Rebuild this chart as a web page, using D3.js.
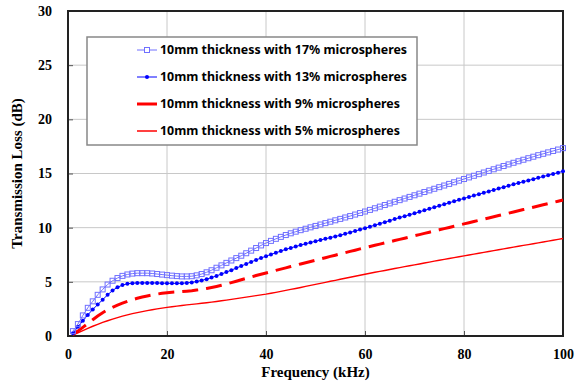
<!DOCTYPE html>
<html><head><meta charset="utf-8">
<script src="https://cdn.jsdelivr.net/npm/d3@7"></script>
<style>body{margin:0;background:#fff}svg{display:block}</style>
</head><body>
<svg id="c" width="588" height="382"></svg>
<script>
const freq = [1,2,3,4,5,6,7,8,9,10,11,12,13,14,15,16,17,18,19,20,21,22,23,24,25,26,27,28,29,30,31,32,33,34,35,36,37,38,39,40,41,42,43,44,45,46,47,48,49,50,51,52,53,54,55,56,57,58,59,60,61,62,63,64,65,66,67,68,69,70,71,72,73,74,75,76,77,78,79,80,81,82,83,84,85,86,87,88,89,90,91,92,93,94,95,96,97,98,99,100];
const tl17 = [0.45,1.1,1.9,2.6,3.2,3.8,4.3,4.75,5.1,5.35,5.55,5.68,5.76,5.8,5.8,5.8,5.77,5.72,5.67,5.62,5.57,5.53,5.5,5.5,5.52,5.6,5.72,5.88,6.07,6.3,6.52,6.75,6.97,7.19,7.41,7.64,7.88,8.12,8.36,8.58,8.78,8.97,9.15,9.32,9.48,9.63,9.77,9.9,10.03,10.16,10.29,10.42,10.55,10.68,10.81,10.94,11.07,11.21,11.35,11.49,11.64,11.79,11.94,12.09,12.24,12.39,12.54,12.69,12.84,12.99,13.14,13.29,13.44,13.59,13.74,13.89,14.04,14.19,14.34,14.49,14.64,14.79,14.94,15.09,15.24,15.39,15.54,15.69,15.84,15.99,16.13,16.27,16.41,16.55,16.69,16.82,16.95,17.08,17.21,17.34];
const tl13 = [0.25,0.85,1.4,1.95,2.45,2.9,3.35,3.8,4.2,4.5,4.7,4.82,4.88,4.9,4.9,4.9,4.9,4.89,4.88,4.87,4.86,4.86,4.87,4.9,4.95,5.03,5.13,5.25,5.39,5.55,5.72,5.9,6.08,6.27,6.46,6.65,6.84,7.02,7.2,7.37,7.53,7.68,7.84,8.0,8.13,8.26,8.39,8.51,8.63,8.75,8.86,8.97,9.08,9.19,9.3,9.43,9.56,9.69,9.82,9.95,10.09,10.23,10.37,10.51,10.65,10.79,10.93,11.06,11.19,11.32,11.46,11.6,11.74,11.88,12.02,12.16,12.3,12.43,12.57,12.7,12.83,12.96,13.09,13.22,13.35,13.48,13.61,13.74,13.87,14.0,14.12,14.24,14.36,14.48,14.6,14.72,14.84,14.96,15.08,15.2];
const tl9 = [0.15,0.45,0.8,1.15,1.5,1.85,2.15,2.42,2.65,2.85,3.03,3.2,3.35,3.48,3.6,3.7,3.79,3.87,3.94,4.0,4.04,4.07,4.1,4.14,4.18,4.24,4.3,4.38,4.47,4.57,4.68,4.8,4.93,5.06,5.19,5.32,5.45,5.58,5.7,5.82,5.94,6.06,6.17,6.29,6.41,6.53,6.65,6.76,6.88,7.0,7.12,7.23,7.35,7.46,7.58,7.69,7.81,7.92,8.04,8.15,8.26,8.37,8.48,8.59,8.7,8.81,8.92,9.03,9.14,9.25,9.36,9.47,9.58,9.69,9.8,9.91,10.02,10.13,10.24,10.35,10.46,10.57,10.68,10.79,10.9,11.01,11.12,11.23,11.34,11.45,11.56,11.67,11.78,11.89,12.0,12.11,12.22,12.33,12.44,12.55];
const tl5 = [0.1,0.3,0.5,0.7,0.9,1.08,1.25,1.41,1.56,1.7,1.83,1.95,2.06,2.16,2.25,2.34,2.42,2.5,2.57,2.64,2.7,2.76,2.82,2.87,2.92,2.97,3.02,3.07,3.13,3.19,3.25,3.31,3.38,3.45,3.52,3.59,3.66,3.73,3.8,3.86,3.95,4.03,4.12,4.21,4.3,4.39,4.48,4.58,4.67,4.76,4.86,4.95,5.05,5.14,5.24,5.33,5.42,5.52,5.61,5.7,5.79,5.88,5.96,6.05,6.14,6.23,6.31,6.4,6.48,6.57,6.65,6.74,6.82,6.91,6.99,7.07,7.15,7.24,7.32,7.4,7.48,7.56,7.64,7.72,7.8,7.88,7.96,8.04,8.12,8.2,8.28,8.36,8.44,8.52,8.6,8.68,8.76,8.84,8.92,9.0];
const seriesNames = ["10mm thickness with 17% microspheres","10mm thickness with 13% microspheres","10mm thickness with 9% microspheres","10mm thickness with 5% microspheres"];
const xTicks = [0,20,40,60,80,100];
const yTicks = [0,5,10,15,20,25,30];
const xTitle = "Frequency (kHz)";
const yTitle = "Transmission Loss (dB)";

const svg = d3.select("#c");
const L=68,R=563,T=11,B=336;
const x = d3.scaleLinear().domain([0,100]).range([L,R]);
const y = d3.scaleLinear().domain([0,30]).range([B,T]);
const serif = "'Liberation Serif','Times New Roman',serif";

// grid
svg.append("g").selectAll("line").data(xTicks.slice(1,-1)).join("line")
  .attr("x1",d=>x(d)).attr("x2",d=>x(d)).attr("y1",T).attr("y2",B)
  .attr("stroke","#c8c8c8").attr("stroke-width",1);
svg.append("g").selectAll("line").data(yTicks.slice(1,-1)).join("line")
  .attr("x1",L).attr("x2",R).attr("y1",d=>y(d)).attr("y2",d=>y(d))
  .attr("stroke","#c8c8c8").attr("stroke-width",1);

// axes
const xa = svg.append("g").attr("transform",`translate(0,${B})`)
  .call(d3.axisBottom(x).tickValues(xTicks).tickSizeInner(-5).tickSizeOuter(0).tickPadding(13));
const ya = svg.append("g").attr("transform",`translate(${L},0)`)
  .call(d3.axisLeft(y).tickValues(yTicks).tickSizeInner(-5).tickSizeOuter(0).tickPadding(16));
[xa,ya].forEach(a=>{
  a.select(".domain").remove();
  a.selectAll("line").attr("stroke","#555");
  a.selectAll("text").attr("font-family",serif).attr("font-weight","bold").attr("font-size",14).attr("fill","#000");
});

// frame
svg.append("rect").attr("x",L).attr("y",T).attr("width",R-L).attr("height",B-T)
  .attr("fill","none").attr("stroke","#222").attr("stroke-width",2);

// titles
svg.append("text").attr("x",(L+R)/2).attr("y",377).attr("text-anchor","middle")
  .attr("font-family",serif).attr("font-weight","bold").attr("font-size",15).text(xTitle);
svg.append("text").attr("transform",`translate(22,${(T+B)/2}) rotate(-90)`).attr("text-anchor","middle")
  .attr("font-family",serif).attr("font-weight","bold").attr("font-size",15).text(yTitle);

const line = d3.line().x((d,i)=>x(freq[i])).y(d=>y(d));
const g = svg.append("g");
// 5%
g.append("path").datum(tl5).attr("d",line).attr("fill","none").attr("stroke","#ff0000").attr("stroke-width",1.4);
// 9%
g.append("path").datum(tl9).attr("d",line).attr("fill","none").attr("stroke","#ff0000").attr("stroke-width",3).attr("stroke-dasharray","16,8");
// 13%
g.append("path").datum(tl13).attr("d",line).attr("fill","none").attr("stroke","#0000ff").attr("stroke-width",1);
g.append("g").selectAll("circle").data(tl13).join("circle")
  .attr("cx",(d,i)=>x(freq[i])).attr("cy",d=>y(d)).attr("r",2).attr("fill","#0000ff");
// 17%
g.append("path").datum(tl17).attr("d",line).attr("fill","none").attr("stroke","#7070ff").attr("stroke-width",1);
g.append("g").selectAll("rect").data(tl17).join("rect")
  .attr("x",(d,i)=>x(freq[i])-2.5).attr("y",d=>y(d)-2.5).attr("width",5).attr("height",5)
  .attr("fill","none").attr("stroke","#7070ff").attr("stroke-width",1);

// legend
const lg = svg.append("g");
lg.append("rect").attr("x",87).attr("y",37).attr("width",330).attr("height",108)
  .attr("fill","#fff").attr("stroke","#888").attr("stroke-width",1.5);
const rowsY = [50,77,104,131];
const sx0=137,sx1=157;
seriesNames.forEach((n,i)=>{
  const yy=rowsY[i];
  const st = i<2 ? (i==0?"#7070ff":"#0000ff") : "#ff0000";
  lg.append("line").attr("x1",sx0).attr("x2",sx1).attr("y1",yy).attr("y2",yy)
    .attr("stroke",st).attr("stroke-width",i==2?3:(i==3?1.5:1));
  if(i==0) lg.append("rect").attr("x",(sx0+sx1)/2-2.5).attr("y",yy-2.5).attr("width",5).attr("height",5).attr("fill","#fff").attr("stroke",st);
  if(i==1) lg.append("circle").attr("cx",(sx0+sx1)/2).attr("cy",yy).attr("r",2).attr("fill",st);
  lg.append("text").attr("x",160).attr("y",yy).attr("dy","0.36em")
    .attr("font-family","'Noto Sans','DejaVu Sans',sans-serif").attr("font-weight","bold").attr("font-size",12.4)
    .attr("fill","#000").text(n);
});
</script>
</body></html>
